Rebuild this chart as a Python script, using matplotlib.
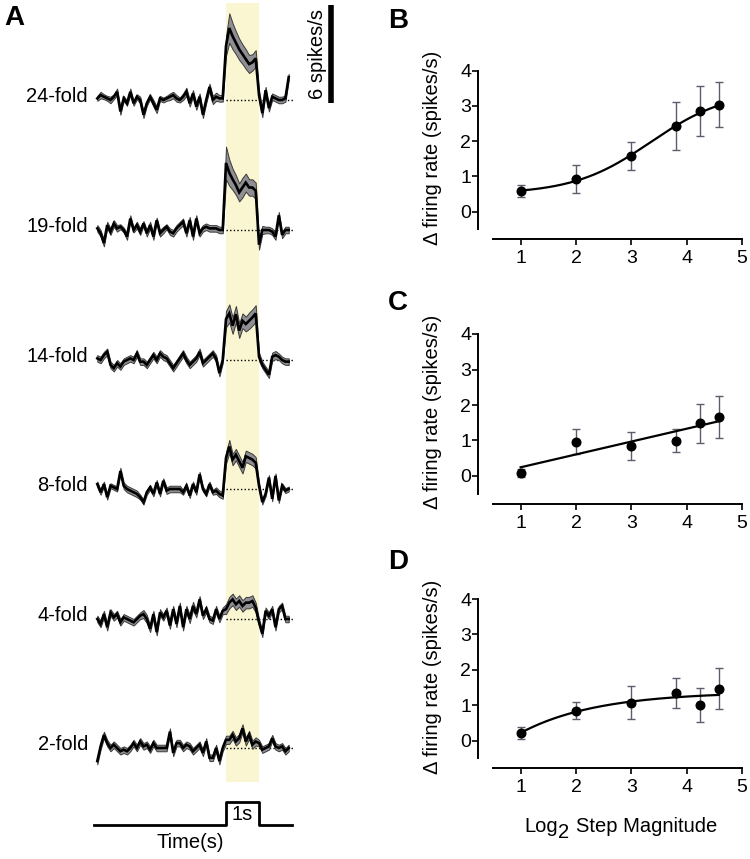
import numpy as np
import matplotlib
matplotlib.use('Agg')
import matplotlib.pyplot as plt

plt.rcParams['font.family'] = ['Liberation Sans', 'DejaVu Sans']

# ---------------- data ----------------
fold_labels = ['24-fold', '19-fold', '14-fold', '8-fold', '4-fold', '2-fold']
time_s = np.round(np.arange(-3.9, 1.95, 0.1), 1)   # bin times (s), stimulus 0-1 s

mean_24 = [0.1, 0.3, 0.2, 0.1, 0.0, 0.2, 0.5, -0.7, 0.1, -0.2,
           0.5, -0.2, 0.2, 0.0, -0.9, -0.2, 0.2, -0.2, -0.6, 0.1,
           0.0, 0.1, 0.2, 0.3, 0.1, 0.0, 0.2, 0.5, -0.2, 0.4,
           -0.4, 0.2, -0.9, 0.0, 0.8, 0.0, 0.2, 0.1, 0.1,
           3.3, 4.4, 3.9, 3.5, 3.1, 2.8, 2.5, 2.2, 2.3, 2.55,
           0.3, -0.8, 0.6, -0.5, 0.2, 0.1, 0.0, 0.0, 0.1, 1.4]
sem_24 = [0.15, 0.2, 0.15, 0.15, 0.2, 0.15, 0.2, 0.2, 0.15, 0.15,
          0.2, 0.15, 0.15, 0.2, 0.2, 0.15, 0.15, 0.2, 0.2, 0.15,
          0.15, 0.15, 0.2, 0.2, 0.2, 0.15, 0.2, 0.25, 0.2, 0.2,
          0.2, 0.2, 0.2, 0.2, 0.2, 0.25, 0.25, 0.2, 0.2,
          0.6, 0.9, 0.8, 0.7, 0.65, 0.6, 0.6, 0.55, 0.5, 0.5,
          0.3, 0.25, 0.2, 0.2, 0.2, 0.2, 0.2, 0.2, 0.2, 0.2]

mean_19 = [0.1, -0.2, -0.8, 0.3, -0.1, 0.4, 0.1, 0.2, 0.0, -0.4,
           0.7, 0.0, 0.3, -0.1, 0.4, -0.2, 0.3, -0.4, 0.6, -0.2,
           0.0, 0.2, -0.1, -0.2, 0.1, 0.3, 0.5, -0.2, 0.6, -0.4,
           0.7, -0.2, 0.1, 0.2, 0.1, 0.1, 0.1, 0.0, 0.0,
           4.1, 3.5, 3.1, 2.75, 2.3, 2.6, 2.9, 2.6, 2.6, 2.4,
           -0.9, 0.0, 0.0, 0.0, -0.1, -0.4, 0.9, -0.3, 0.0, 0.0]
sem_19 = [0.2, 0.2, 0.2, 0.2, 0.2, 0.2, 0.2, 0.15, 0.15, 0.2,
          0.2, 0.15, 0.2, 0.2, 0.15, 0.2, 0.2, 0.2, 0.15, 0.2,
          0.2, 0.15, 0.2, 0.2, 0.2, 0.2, 0.2, 0.2, 0.2, 0.2,
          0.2, 0.2, 0.2, 0.2, 0.2, 0.2, 0.2, 0.2, 0.2,
          1.0, 0.8, 0.65, 0.6, 0.55, 0.6, 0.55, 0.5, 0.5, 0.5,
          0.3, 0.25, 0.2, 0.2, 0.2, 0.2, 0.2, 0.2, 0.2, 0.2]

mean_14 = [0.1, 0.0, 0.3, 0.5, -0.3, -0.5, -0.2, -0.4, -0.1, 0.0,
           0.1, 0.0, 0.4, -0.1, -0.1, -0.3, 0.0, 0.3, 0.0, 0.4,
           0.2, 0.1, -0.2, -0.5, -0.2, 0.1, 0.4, 0.0, -0.3, -0.1,
           0.1, 0.5, -0.2, 0.0, 0.2, 0.4, 0.1, -0.8, 0.0,
           2.5, 2.85, 2.1, 2.8, 1.8, 2.4, 2.2, 2.4, 2.6, 2.85,
           0.2, -0.3, -0.6, -0.9, 0.2, 0.3, 0.2, 0.0, -0.1, -0.1]
sem_14 = [0.2, 0.2, 0.2, 0.2, 0.2, 0.2, 0.2, 0.2, 0.2, 0.2,
          0.2, 0.2, 0.2, 0.2, 0.2, 0.2, 0.2, 0.2, 0.2, 0.2,
          0.2, 0.2, 0.2, 0.2, 0.2, 0.2, 0.2, 0.2, 0.2, 0.2,
          0.2, 0.2, 0.2, 0.2, 0.2, 0.2, 0.2, 0.2, 0.2,
          0.5, 0.55, 0.5, 0.5, 0.45, 0.45, 0.45, 0.5, 0.5, 0.5,
          0.25, 0.2, 0.2, 0.2, 0.25, 0.25, 0.2, 0.2, 0.2, 0.2]

mean_8 = [0.3, -0.2, 0.3, -0.5, 0.2, 0.1, 0.0, 1.1, 0.2, 0.0,
          -0.1, -0.2, -0.3, -0.5, -0.8, -0.2, 0.1, -0.3, 0.4, -0.3,
          0.5, -0.1, 0.0, 0.0, 0.0, 0.0, -0.2, 0.2, -0.4, 0.3,
          -0.2, 0.9, 0.0, -0.3, 0.3, -0.2, -0.1, -0.3, -0.4,
          1.9, 2.6, 1.8, 2.1, 1.7, 1.3, 2.0, 1.9, 1.8, 1.6,
          0.2, -0.8, -0.3, 0.7, -0.6, 0.8, -0.7, 0.2, -0.1, 0.0]
sem_8 = [0.15, 0.15, 0.15, 0.15, 0.15, 0.15, 0.15, 0.2, 0.2, 0.2,
         0.2, 0.2, 0.2, 0.15, 0.15, 0.15, 0.15, 0.15, 0.15, 0.15,
         0.15, 0.2, 0.2, 0.2, 0.2, 0.2, 0.15, 0.15, 0.15, 0.15,
         0.15, 0.15, 0.15, 0.15, 0.15, 0.15, 0.2, 0.2, 0.2,
         0.35, 0.4, 0.35, 0.35, 0.35, 0.35, 0.35, 0.35, 0.35, 0.35,
         0.2, 0.15, 0.15, 0.15, 0.15, 0.15, 0.15, 0.15, 0.15, 0.15]

mean_4 = [0.0, -0.3, 0.3, -0.5, 0.4, 0.1, 0.3, -0.2, 0.1, 0.0,
          -0.1, -0.2, 0.0, 0.2, 0.3, 0.0, -0.6, 0.3, -0.8, 0.4,
          0.1, 0.5, -0.4, 0.6, -0.3, 0.8, -0.5, 0.6, 0.0, 0.8,
          0.3, 1.2, 0.2, 0.6, 0.0, -0.1, 0.6, 0.0, 0.5,
          0.6, 1.0, 1.2, 0.9, 1.1, 0.8, 1.0, 1.0, 1.1, 0.7,
          -0.2, -0.9, 0.5, 0.2, 0.6, -0.5, 0.6, 0.8, 0.0, 0.0]
sem_4 = [0.2, 0.2, 0.2, 0.2, 0.2, 0.2, 0.2, 0.2, 0.2, 0.2,
         0.2, 0.2, 0.2, 0.2, 0.25, 0.25, 0.2, 0.2, 0.2, 0.2,
         0.2, 0.2, 0.2, 0.2, 0.2, 0.2, 0.2, 0.2, 0.25, 0.25,
         0.2, 0.2, 0.2, 0.2, 0.2, 0.2, 0.2, 0.2, 0.2,
         0.3, 0.35, 0.35, 0.35, 0.35, 0.35, 0.35, 0.35, 0.35, 0.3,
         0.2, 0.2, 0.2, 0.2, 0.2, 0.2, 0.2, 0.2, 0.2, 0.2]

mean_2 = [-0.8, 0.1, 0.8, 0.3, 0.0, 0.2, 0.0, -0.2, -0.1, -0.2,
          0.0, 0.3, 0.0, 0.4, 0.1, 0.2, -0.1, 0.3, 0.0, 0.0,
          0.0, 0.0, 1.0, -0.3, 0.3, 0.3, 0.0, 0.2, 0.1, -0.2,
          0.0, 0.2, -0.3, 0.4, -0.6, -0.6, 0.0, -0.8, 0.0,
          0.5, 0.5, 0.8, 0.4, 0.6, 1.2, 0.4, 0.8, 0.2, 0.4,
          0.3, -0.1, 0.0, 0.1, 0.6, 0.1, 0.0, 0.1, -0.2, 0.0]
sem_2 = [0.2, 0.2, 0.2, 0.2, 0.2, 0.2, 0.2, 0.2, 0.2, 0.2,
         0.2, 0.2, 0.2, 0.2, 0.2, 0.2, 0.2, 0.2, 0.2, 0.2,
         0.2, 0.2, 0.2, 0.2, 0.2, 0.2, 0.2, 0.2, 0.2, 0.2,
         0.2, 0.2, 0.2, 0.2, 0.2, 0.2, 0.2, 0.2, 0.2,
         0.25, 0.25, 0.25, 0.25, 0.25, 0.25, 0.25, 0.25, 0.25, 0.25,
         0.2, 0.2, 0.2, 0.2, 0.2, 0.2, 0.2, 0.2, 0.2, 0.2]

trace_means = [mean_24, mean_19, mean_14, mean_8, mean_4, mean_2]
trace_sems = [sem_24, sem_19, sem_14, sem_8, sem_4, sem_2]

scale_bar_value = 6            # spikes/s
stim_start, stim_end = 0.0, 1.0

# panels B-D
log2_step = [1, 2, 3, 3.81, 4.25, 4.58]
rate_B = [0.60, 0.93, 1.59, 2.44, 2.86, 3.03]
err_B = [0.17, 0.39, 0.40, 0.68, 0.70, 0.64]
rate_C = [0.09, 0.97, 0.85, 0.99, 1.48, 1.67]
err_C = [0.12, 0.36, 0.39, 0.32, 0.54, 0.59]
rate_D = [0.23, 0.85, 1.07, 1.34, 1.01, 1.47]
err_D = [0.17, 0.24, 0.46, 0.43, 0.47, 0.58]

# fitted model parameters
sig_bottom, sig_top, sig_x50, sig_slope = 0.5, 3.45, 3.35, 0.7     # panel B (sigmoid)
exp_y0, exp_plateau, exp_k = 0.22, 1.38, 0.72                     # panel D (one-phase association)

# ---------------- layout ----------------
W, H = 750, 859
fig = plt.figure(figsize=(W / 100, H / 100), dpi=100)

PX_PER_S = 33.0
PX_PER_RATE = 16.35
T0_PX = 226.0


def px2t(px):
    return (px - T0_PX) / PX_PER_S


def py2y(py):
    return (H - py) / PX_PER_RATE


A_W = 345
axA = fig.add_axes([0, 0, A_W / W, 1])
axA.set_xlim(px2t(0), px2t(A_W))
axA.set_ylim(0, H / PX_PER_RATE)
axA.axis('off')

baseline_rows = [100, 230, 360, 489, 619, 748]

# stimulus band
axA.fill_between([stim_start, stim_end], py2y(782), py2y(3),
                 color='#fbf6d2', lw=0, zorder=0)

for lab, m, s, row in zip(fold_labels, trace_means, trace_sems, baseline_rows):
    off = py2y(row)
    m = np.asarray(m)
    s = np.asarray(s)
    axA.fill_between(time_s, off + m - s, off + m + s, facecolor='#8e8e93',
                     edgecolor='#3a3a3a', lw=0.7, zorder=2)
    axA.plot(time_s, off + m, color='black', lw=1.9, zorder=3,
             solid_joinstyle='miter')
    axA.plot([stim_start, px2t(293)], [off, off], color='black', lw=1.0,
             ls=(0, (1, 1.6)), zorder=1)
    axA.text(px2t(88), off + 0.2, lab, ha='right', va='center', fontsize=14.5)

# scale bar
bar_top = py2y(5)
axA.plot([px2t(331.5), px2t(331.5)], [bar_top - scale_bar_value, bar_top],
         color='black', lw=4, solid_capstyle='butt')
axA.text(px2t(318), bar_top - scale_bar_value / 2, f'{scale_bar_value} spikes/s',
         rotation=90, ha='center', va='center', fontsize=14.5)

# stimulus trace
lo, hi = py2y(825), py2y(802)
axA.plot([px2t(94), stim_start, stim_start, stim_end, stim_end, px2t(292)],
         [lo, lo, hi, hi, lo, lo], color='black', lw=2)
axA.text((stim_start + stim_end) / 2, py2y(815), '1s', ha='center', va='center',
         fontsize=14.5)
axA.text(px2t(190), py2y(843), 'Time(s)', ha='center', va='center', fontsize=14.5)

# panel letters
for letter, (lx, ly) in zip('ABCD', [(4, 5), (388, 8), (388, 290), (388, 549)]):
    fig.text(lx / W, 1 - ly / H, letter, fontsize=20, fontweight='bold',
             ha='left', va='top')


def make_panel(px_y4, px_y0):
    unit = (px_y0 - px_y4) / 4.0
    ymin = -0.78
    bottom_px = px_y0 - ymin * unit
    left, right = 478, 742
    ax = fig.add_axes([left / W, 1 - bottom_px / H, (right - left) / W,
                       (bottom_px - px_y4) / H])
    ax.set_xlim(0.23, 5.0)
    ax.set_ylim(ymin, 4.0)
    for sp in ['top', 'right']:
        ax.spines[sp].set_visible(False)
    ax.spines['left'].set_bounds(-0.5, 4)
    ax.spines['bottom'].set_bounds(0.5, 5)
    for sp in ['left', 'bottom']:
        ax.spines[sp].set_linewidth(1.4)
    ax.set_xticks([1, 2, 3, 4, 5])
    ax.set_yticks([0, 1, 2, 3, 4])
    ax.tick_params(direction='out', length=4, width=1.2, labelsize=14)
    ax.tick_params(axis='y', pad=1)
    ax.tick_params(axis='x', pad=4)
    ax.set_ylabel('Δ firing rate (spikes/s)', fontsize=14.5)
    ax.yaxis.set_label_coords(-0.135, 0.54)
    return ax


def draw_points(ax, y, e):
    ax.errorbar(log2_step, y, yerr=e, fmt='none', ecolor='#5c5c6c',
                elinewidth=1.0, capsize=3, capthick=1.0, zorder=2)
    ax.plot(log2_step, y, 'o', color='black', markersize=6.2, zorder=4,
            clip_on=False)


xfit = np.linspace(log2_step[0], log2_step[-1], 200)

axB = make_panel(70.7, 211.7)
draw_points(axB, rate_B, err_B)
axB.plot(xfit, sig_bottom + (sig_top - sig_bottom) /
         (1 + np.exp((sig_x50 - xfit) / sig_slope)), color='black', lw=1.6, zorder=3)

axC = make_panel(334, 476)
draw_points(axC, rate_C, err_C)
slope, icpt = np.polyfit(log2_step, rate_C, 1)
axC.plot(xfit, icpt + slope * xfit, color='black', lw=1.6, zorder=3)

axD = make_panel(599, 740.7)
draw_points(axD, rate_D, err_D)
axD.plot(xfit, exp_plateau - (exp_plateau - exp_y0) * np.exp(-exp_k * (xfit - 1)),
         color='black', lw=1.6, zorder=3)

# x label of panel D: "Log2 Step Magnitude" with lowered 2
fig.text(524 / W, 1 - 832 / H, 'Log', fontsize=14.5, ha='left', va='baseline')
fig.text(558 / W, 1 - 838 / H, '2', fontsize=14.5, ha='left', va='baseline')
fig.text(576 / W, 1 - 832 / H, 'Step Magnitude', fontsize=14.5, ha='left',
         va='baseline')

fig.savefig('out.png', dpi=100)
